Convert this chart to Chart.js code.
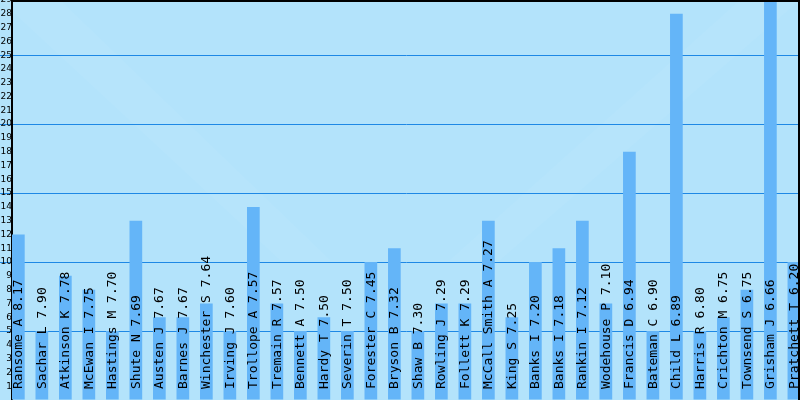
<!DOCTYPE html>
<html>
<head>
<meta charset="utf-8">
<script src="https://cdn.jsdelivr.net/npm/chart.js@4.4.0/dist/chart.umd.min.js"></script>
<style>
    html, body { margin: 0; padding: 0; background: #b3e3fb; }
    #wrap { width: 800px; height: 400px; }
</style>
</head>
<body>
<div id="wrap"><canvas id="authorChart"></canvas></div>
<script>
// Authors, their average score, and bar heights
const authors = ['Ransome A', 'Sachar L', 'Atkinson K', 'McEwan I', 'Hastings M', 'Shute N',
    'Austen J', 'Barnes J', 'Winchester S', 'Irving J', 'Trollope A', 'Tremain R', 'Bennett A',
    'Hardy T', 'Severin T', 'Forester C', 'Bryson B', 'Shaw B', 'Rowling J', 'Follett K',
    'McCall Smith A', 'King S', 'Banks I', 'Banks I', 'Rankin I', 'Wodehouse P', 'Francis D',
    'Bateman C', 'Child L', 'Harris R', 'Crichton M', 'Townsend S', 'Grisham J', 'Pratchett T'];
const scores = ['8.17', '7.90', '7.78', '7.75', '7.70', '7.69', '7.67', '7.67', '7.64', '7.60',
    '7.57', '7.57', '7.50', '7.50', '7.50', '7.45', '7.32', '7.30', '7.29', '7.29', '7.27',
    '7.25', '7.20', '7.18', '7.12', '7.10', '6.94', '6.90', '6.89', '6.80', '6.75', '6.75',
    '6.66', '6.20'];
const counts = [12, 5, 9, 8, 5, 13, 6, 6, 7, 5, 14, 7, 5, 6, 5, 10, 11, 5, 7, 7, 13, 6, 10, 11,
    13, 7, 18, 5, 28, 5, 6, 8, 29, 10];
const yMin = 0;
const yMax = 29;
const gridEvery = 5;

const gridBlue = '#1e88e5';

const backgroundPlugin = {
    id: 'background',
    beforeDraw(chart) {
        const ctx = chart.ctx;
        ctx.save();
        ctx.fillStyle = '#b3e3fb';
        ctx.fillRect(0, 0, chart.width, chart.height);
        // very faint lighter diagonal bands
        ctx.fillStyle = 'rgba(255,255,255,0.04)';
        ctx.beginPath();
        ctx.moveTo(0, 0); ctx.lineTo(60, 0); ctx.lineTo(330, 260); ctx.lineTo(280, 260);
        ctx.closePath(); ctx.fill();
        ctx.beginPath();
        ctx.moveTo(800, 0); ctx.lineTo(740, 0); ctx.lineTo(450, 260); ctx.lineTo(500, 260);
        ctx.closePath(); ctx.fill();
        ctx.restore();
    }
};

const labelPlugin = {
    id: 'barLabels',
    afterDatasetsDraw(chart) {
        const ctx = chart.ctx;
        const meta = chart.getDatasetMeta(0);
        ctx.save();
        ctx.fillStyle = '#000';
        ctx.font = '13px "DejaVu Sans Mono"';
        ctx.textAlign = 'left';
        ctx.textBaseline = 'alphabetic';
        meta.data.forEach((bar, i) => {
            ctx.save();
            ctx.translate(bar.x + 4, chart.chartArea.bottom - 11);
            ctx.rotate(-Math.PI / 2);
            ctx.fillText(authors[i] + ' ' + scores[i], 0, 0);
            ctx.restore();
        });
        // frame: top and right edges
        ctx.strokeStyle = '#000';
        ctx.lineWidth = 2;
        ctx.beginPath();
        ctx.moveTo(11, 1); ctx.lineTo(799, 1); ctx.lineTo(799, 400);
        ctx.stroke();
        ctx.restore();
    }
};

new Chart(document.getElementById('authorChart').getContext('2d'), {
    type: 'bar',
    data: {
        datasets: [{
            data: counts.map((v, i) => ({ x: i, y: v })),
            backgroundColor: '#64b5f8',
            borderWidth: 0,
            categoryPercentage: 1,
            barPercentage: 0.54
        }]
    },
    options: {
        responsive: true,
        maintainAspectRatio: false,
        animation: false,
        layout: { padding: 0 },
        plugins: {
            legend: { display: false },
            tooltip: { enabled: false }
        },
        scales: {
            x: {
                type: 'linear',
                min: -0.27,
                max: 33.26,
                offset: false,
                display: false
            },
            y: {
                min: yMin,
                max: yMax,
                afterFit(scale) {
                    scale.width = 12;
                    scale.paddingTop = 0;
                    scale.paddingBottom = 0;
                },
                ticks: {
                    stepSize: 1,
                    autoSkip: false,
                    padding: -12,
                    color: '#000',
                    font: { family: 'DejaVu Sans', size: 9 },
                    callback: v => (v === 0 ? '' : v)
                },
                grid: {
                    color: c => (c.tick && c.tick.value % gridEvery === 0 && c.tick.value > yMin && c.tick.value < yMax) ? gridBlue : 'rgba(0,0,0,0)',
                    tickLength: 12,
                    lineWidth: 1
                },
                border: { color: '#000', width: 2 }
            }
        }
    },
    plugins: [backgroundPlugin, labelPlugin]
});
</script>
</body>
</html>
